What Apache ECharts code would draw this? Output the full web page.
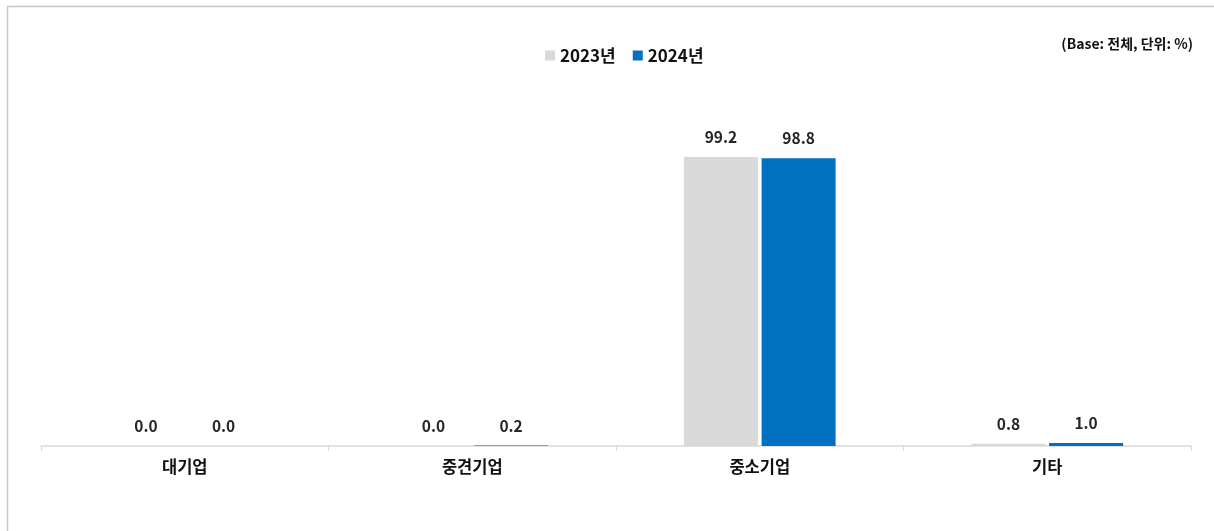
<!DOCTYPE html>
<html>
<head>
<meta charset="utf-8">
<script src="https://cdn.jsdelivr.net/npm/echarts@6/dist/echarts.min.js"></script>
<style>
  html, body { margin: 0; padding: 0; background: #fff; }
  #chart { width: 1214px; height: 531px; }
</style>
</head>
<body>
<div id="chart"></div>
<script>
const categories = ['대기업', '중견기업', '중소기업', '기타']
const seriesNames = ['2023년', '2024년']
const values2023 = [0.0, 0.0, 99.2, 0.8]
const values2024 = [0.0, 0.2, 98.8, 1.0]
const noteText = '(Base: 전체, 단위: %)'

const FONT = '"Noto Sans CJK KR", "Noto Sans", sans-serif'

const chart = echarts.init(document.getElementById('chart'))

const labelStyle = {
    show: true,
    position: 'top',
    distance: 12,
    formatter: p => p.value.toFixed(1),
    color: '#262626',
    fontSize: 15.5,
    fontWeight: 'bold',
    fontFamily: FONT
}

chart.setOption({
    animation: false,
    graphic: [
        { type: 'line', shape: { x1: 7, y1: 6.5, x2: 1214, y2: 6.5 }, style: { stroke: '#c8c8c8', lineWidth: 1.5 } },
        { type: 'line', shape: { x1: 7.5, y1: 6, x2: 7.5, y2: 531 }, style: { stroke: '#c8c8c8', lineWidth: 1.5 } },
        {
            type: 'text', right: 21, top: 37,
            style: { text: noteText, fill: '#111', font: 'bold 14px ' + FONT }
        }
    ],
    legend: {
        top: 42,
        left: 540,
        itemWidth: 10,
        itemHeight: 10,
        itemGap: 17,
        icon: 'rect',
        textStyle: { color: '#111', fontSize: 17, fontWeight: 'bold', fontFamily: FONT },
        data: seriesNames
    },
    grid: { left: 41, right: 23, top: 154.7, bottom: 85 },
    xAxis: {
        type: 'category',
        data: categories,
        axisLine: { lineStyle: { color: '#d9d9d9', width: 1.5 } },
        axisTick: { show: true, length: 5, lineStyle: { color: '#d9d9d9' } },
        axisLabel: { color: '#111', fontSize: 16.5, fontWeight: 'bold', fontFamily: FONT, margin: 12 }
    },
    yAxis: {
        type: 'value',
        min: 0,
        max: 100,
        show: false,
        splitLine: { show: false }
    },
    series: [
        {
            name: seriesNames[0],
            type: 'bar',
            data: values2023,
            barWidth: 74,
            barGap: '5%',
            itemStyle: { color: '#d9d9d9' },
            label: labelStyle
        },
        {
            name: seriesNames[1],
            type: 'bar',
            data: values2024,
            barWidth: 74,
            barGap: '5%',
            itemStyle: { color: '#0070c0' },
            label: labelStyle
        }
    ]
})
</script>
</body>
</html>
